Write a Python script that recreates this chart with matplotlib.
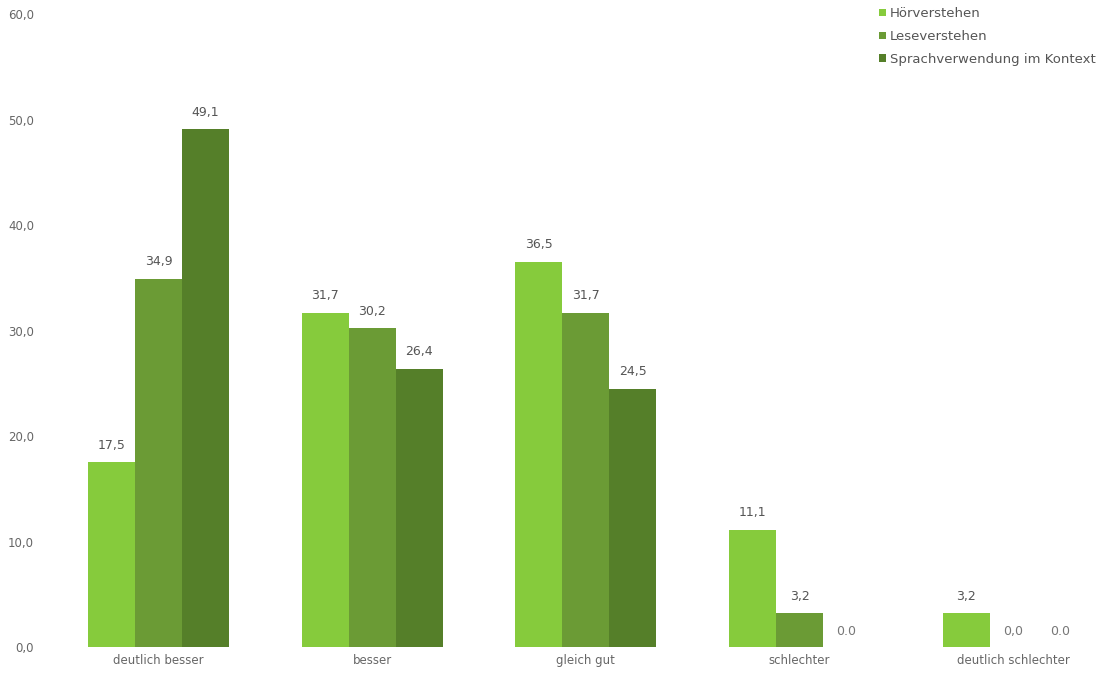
import numpy as np
import matplotlib.pyplot as plt
from matplotlib.ticker import FuncFormatter

kategorien = ["deutlich besser", "besser", "gleich gut", "schlechter", "deutlich schlechter"]
hoerverstehen = [17.5, 31.7, 36.5, 11.1, 3.2]
leseverstehen = [34.9, 30.2, 31.7, 3.2, 0.0]
sprachverwendung = [49.1, 26.4, 24.5, 0.0, 0.0]
serien = ["Hörverstehen", "Leseverstehen", "Sprachverwendung im Kontext"]
farben = ["#86cb3c", "#6b9b35", "#557f29"]
yticks = [0, 10, 20, 30, 40, 50, 60]

def fmt_de(v, pos=None):
    return f"{v:.1f}".replace(".", ",")

fig = plt.figure(figsize=(11.15, 6.75), dpi=100)
ax = fig.add_axes([0.058, 0.0415, 0.935, 0.9375])

x = np.arange(len(kategorien))
w = 0.22
werte = [hoerverstehen, leseverstehen, sprachverwendung]
for i, (name, vals, col) in enumerate(zip(serien, werte, farben)):
    pos = x + (i - 1) * w
    ax.bar(pos, vals, width=w, color=col, label=name, linewidth=0)
    for p, v in zip(pos, vals):
        if v > 0:
            ax.text(p, v + 1.0, fmt_de(v), ha="center", va="bottom",
                    fontsize=9, color="#555555")
        else:
            # im Original steht bei der dritten Reihe "0.0" mit Punkt
            txt = f"{v:.1f}" if i == 2 else fmt_de(v)
            ax.text(p, 1.5, txt, ha="center", va="center",
                    fontsize=9, color="#777777")

ax.set_xlim(-0.44, 4.44)
ax.set_ylim(0, 60)
ax.set_yticks(yticks)
ax.yaxis.set_major_formatter(FuncFormatter(fmt_de))
ax.set_xticks(x)
ax.set_xticklabels(kategorien)
ax.tick_params(axis="both", length=0, labelsize=8.5, colors="#666666")
ax.tick_params(axis="y", pad=22)
ax.tick_params(axis="x", pad=5)
for s in ax.spines.values():
    s.set_visible(False)

leg = ax.legend(loc="upper right", bbox_to_anchor=(1.0, 1.03), frameon=False,
                fontsize=9.5, handlelength=0.5, handleheight=0.5,
                handletextpad=0.3, labelspacing=0.75)
for t in leg.get_texts():
    t.set_color("#555555")

fig.savefig("out.png", dpi=100)
